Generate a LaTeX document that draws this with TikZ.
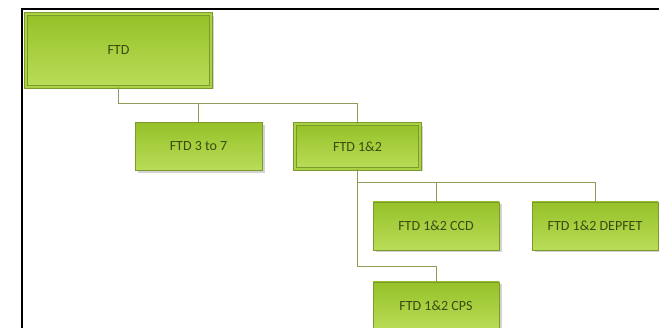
\documentclass[tikz,border=0pt]{standalone}
\usepackage{fontspec}
\setmainfont{Carlito}
\usetikzlibrary{shadows}

\definecolor{boxtop}{HTML}{96C128}
\definecolor{boxbottom}{HTML}{B9DD58}
\definecolor{boxedge}{HTML}{7C9A2C}
\definecolor{boxtext}{HTML}{3A4C12}
\definecolor{linkline}{HTML}{8E9C58}

\begin{document}
\begin{tikzpicture}[x=1pt, y=-1pt,
    % --- Styles ---
    unit box/.style={draw=boxedge, line width=0.7pt,
        top color=boxtop, bottom color=boxbottom,
        text=boxtext, font=\fontsize{14}{16}\selectfont,
        minimum width=126pt, minimum height=48pt, inner sep=0pt,
        drop shadow={shadow xshift=2.5pt, shadow yshift=-2.5pt, opacity=0.35}},
    % Parent boxes get the doubled border
    parent box/.style={unit box, double=boxbottom!60!boxtop, double distance=2pt,
        line width=0.8pt},
    link line/.style={draw=linkline, line width=0.9pt}
]

%================CONFIGURATION================
\def\rowA{50.5}
\def\rowB{146.5}
\def\rowC{226}
\def\rowD{306}
%=============================================

\useasboundingbox (0,0) rectangle (659,328);

% --- Frame ---
\draw[line width=1.6pt, line cap=rect] (22,328) -- (22,9) -- (660,9);

% --- Nodes ---
\node[parent box, minimum width=185pt, minimum height=73pt] (FTD) at (118.5,\rowA) {FTD};

\node[unit box, minimum width=127pt] (F37) at (198.5,\rowB) {FTD 3 to 7};
\node[parent box, minimum width=125pt, minimum height=45pt] (F12) at (357.5,\rowB) {FTD 1\&2};

\node[unit box] (CCD) at (436,\rowC) {FTD 1\&2 CCD};
\node[unit box] (DEP) at (595,\rowC) {FTD 1\&2 DEPFET};
\node[unit box] (CPS) at (436,\rowD) {FTD 1\&2 CPS};

% --- Connectors ---
\draw[link line] (FTD.south) -- ++(0,16) -| (F37.north);
\draw[link line] (FTD.south) -- ++(0,16) -| (F12.north);

\coordinate (cpsbus) at ([yshift=15pt]CPS.north);
\draw[link line] (F12.south) -- ++(0,13) -| (CCD.north);
\draw[link line] (F12.south) -- ++(0,13) -| (DEP.north);
\draw[link line] (F12.south) |- (cpsbus) -- (CPS.north);

\end{tikzpicture}
\end{document}
